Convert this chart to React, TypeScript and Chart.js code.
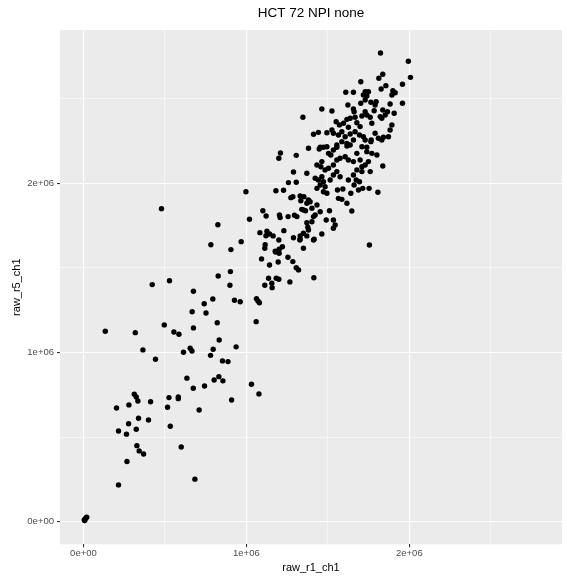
import React, { useEffect, useRef } from 'react';
import { Chart, registerables } from 'chart.js';

Chart.register(...registerables);

// Values, in millions (×1e6)
const rawR1Ch1Millions = [
  0.005, 0.010, 0.015, 0.020, 0.008,
  0.134, 0.318, 0.365, 0.442, 0.422, 0.528, 0.496, 0.555, 0.586, 0.675,
  0.667, 0.675, 0.741, 0.752, 0.794, 0.821, 0.833, 0.796, 0.780, 0.655,
  0.666, 0.614, 0.827, 0.902, 0.899, 0.927, 0.962, 0.937, 0.853, 0.887,
  0.635, 0.674, 0.743, 0.802, 0.831, 0.856, 0.909, 1.031, 1.077, 1.060,
  1.062, 1.071, 1.080, 0.312, 0.324, 0.334, 0.203, 0.279, 0.412, 0.525,
  0.582, 0.582, 0.516, 0.710, 0.338, 0.399, 0.277, 0.324, 0.215, 0.264,
  0.533, 0.328, 0.342, 0.369, 0.600, 0.267, 0.215, 0.684, 1.093, 1.142,
  1.179, 1.201, 1.195, 1.255, 1.285, 1.306, 1.320, 1.136, 1.113, 1.156,
  1.158, 1.183, 1.199, 1.267, 0.479, 0.782, 0.905, 0.968, 1.115, 1.113,
  1.177, 1.201, 1.221, 1.199, 1.350, 1.414, 1.328, 1.412, 1.209,
  1.199, 1.306, 1.381, 1.289, 1.371, 1.258, 1.306, 0.997, 1.181,
  1.228, 1.273, 1.285, 1.330, 1.334, 1.353, 1.371, 1.381, 1.101, 1.121,
  1.019, 1.203, 1.207, 1.256, 1.295, 1.310, 1.340, 1.363, 0.825, 1.083,
  1.126, 1.142, 1.164, 1.120, 1.230, 1.289, 1.330, 1.330, 1.371, 1.377,
  1.381, 1.371, 1.447, 1.473, 1.504, 1.518, 1.534, 1.555, 1.586, 1.617,
  1.637, 1.657, 1.678, 1.709, 1.739, 1.764, 1.770, 1.801, 1.831, 1.729,
  1.433, 1.463, 1.457, 1.483, 1.504, 1.534, 1.555, 1.575, 1.606, 1.626,
  1.657, 1.698, 1.729, 1.749, 1.760, 1.709, 1.678, 1.837, 1.422, 1.442,
  1.463, 1.473, 1.453, 1.483, 1.433, 1.473, 1.494, 1.514, 1.534, 1.555,
  1.575, 1.559, 1.592, 1.626, 1.657, 1.674, 1.694, 1.709, 1.641, 1.661,
  1.688, 1.714, 1.753, 1.807, 1.565, 1.586, 1.617, 1.647, 1.510, 1.534,
  1.545, 1.534, 1.490, 1.453, 1.422, 1.433, 1.402, 1.391, 1.350, 1.412,
  1.402, 1.350, 1.463, 1.416, 1.755, 1.823, 1.994, 2.007, 1.958, 1.837,
  1.813, 1.856, 1.702, 1.610, 1.657, 1.729, 1.749, 1.718, 1.739, 1.827,
  1.899, 1.913, 1.893, 1.729, 1.702, 1.764, 1.796, 1.790, 1.882, 1.958,
  1.623, 1.463, 1.525, 1.347, 1.657, 1.661, 1.729, 1.739, 1.784, 1.837,
  1.866, 1.907, 1.821, 1.852, 1.551, 1.571, 1.596, 1.617, 1.637, 1.667,
  1.709, 1.626, 1.678, 1.698, 1.760, 1.770, 1.831, 1.893, 1.412, 1.442,
  1.494, 1.525, 1.534, 1.565, 1.586, 1.606, 1.637, 1.667, 1.694, 1.718,
  1.766, 1.790, 1.810, 1.841, 1.872, 1.882, 1.453, 1.494, 1.555, 1.617, 1.739,
];

const rawR5Ch1Millions = [
  0.010, 0.015, 0.022, 0.026, 0.006,
  1.125, 1.117, 1.015, 0.960, 1.401, 1.424, 1.163, 1.121, 1.108, 1.362,
  1.241, 1.145, 1.288, 1.233, 1.316, 1.176, 1.074, 1.019, 0.983, 1.025,
  1.009, 1.001, 1.452, 1.478, 1.397, 1.309, 1.300, 1.033, 0.950, 0.946,
  0.848, 0.788, 0.802, 0.837, 0.857, 0.832, 0.719, 0.812, 0.755, 1.182,
  1.318, 1.304, 1.294, 0.753, 0.737, 0.713, 0.672, 0.690, 0.709, 0.733,
  0.737, 0.727, 0.676, 0.660, 0.611, 0.601, 0.579, 0.546, 0.536, 0.517,
  0.564, 0.449, 0.418, 0.400, 0.441, 0.355, 0.217, 0.251, 1.553, 1.517,
  1.594, 1.586, 1.535, 1.563, 1.537, 1.501, 1.488, 1.439, 1.397, 1.409,
  1.383, 1.439, 1.433, 1.417, 1.850, 1.637, 1.608, 1.655, 1.637, 1.616,
  1.598, 1.610, 1.625, 1.665, 1.616, 1.442, 1.665, 1.665, 2.179,
  2.148, 2.165, 2.207, 2.067, 2.059, 2.004, 2.006, 1.950, 1.956,
  1.959, 1.915, 1.921, 1.925, 1.897, 1.921, 1.882, 1.901, 1.838, 1.807,
  1.787, 1.813, 1.797, 1.803, 1.811, 1.803, 1.846, 1.838, 1.755, 1.708,
  1.716, 1.700, 1.689, 1.690, 1.720, 1.678, 1.689, 1.669, 1.767, 1.740,
  1.724, 1.689, 2.203, 2.213, 2.177, 2.167, 2.197, 2.226, 2.246, 2.236,
  2.226, 2.256, 2.177, 2.216, 2.187, 2.246, 2.177, 2.167, 2.256, 2.256,
  2.108, 2.128, 2.098, 2.079, 2.089, 2.108, 2.138, 2.148, 2.157, 2.138,
  2.128, 2.138, 2.108, 2.128, 2.069, 2.098, 2.079, 2.102, 2.030, 2.019,
  2.039, 2.009, 1.990, 1.980, 1.970, 1.950, 1.941, 2.019, 2.049, 2.069,
  2.039, 1.960, 1.966, 2.019, 2.049, 2.019, 2.009, 2.069, 1.941, 1.990,
  1.960, 1.970, 1.970, 1.947, 1.911, 1.905, 1.882, 1.836, 1.838, 1.783,
  1.754, 1.734, 1.783, 1.832, 1.813, 1.872, 1.852, 1.891, 1.842, 1.803,
  1.773, 1.705, 1.700, 1.669, 1.635, 2.770, 2.721, 2.626, 2.585, 2.644,
  2.621, 2.577, 2.600, 2.538, 2.538, 2.541, 2.541, 2.522, 2.516, 2.557,
  2.547, 2.535, 2.522, 2.492, 2.473, 2.479, 2.482, 2.463, 2.469, 2.473,
  2.463, 2.439, 2.427, 2.390, 2.439, 2.423, 2.423, 2.404, 2.429, 2.433,
  2.423, 2.414, 2.394, 2.404, 2.364, 2.345, 2.355, 2.378, 2.384, 2.390,
  2.398, 2.331, 2.358, 2.335, 2.390, 2.355, 2.384, 2.345, 2.290, 2.301,
  2.299, 2.315, 2.296, 2.285, 2.305, 2.275, 2.291, 2.305, 2.285, 2.275,
  2.256, 2.296, 2.266, 2.272, 2.275, 2.315, 2.213, 2.216, 2.213, 2.220, 2.213,
];

const MILLION = 1e6;
const majorTickValues = [0, 1e6, 2e6];
const majorTickLabels = ['0e+00', '1e+06', '2e+06'];
const gridValues = [0, 0.5e6, 1e6, 1.5e6, 2e6, 2.5e6];

const chartTitle = 'HCT 72 NPI none';
const xTitle = 'raw_r1_ch1';
const yTitle = 'raw_r5_ch1';

const FONT = "'Liberation Sans', Arial, Helvetica, sans-serif";

const isMajor = (v: number) => majorTickValues.some((m) => Math.abs(m - v) < 1);
const labelFor = (v: number) => {
  const i = majorTickValues.findIndex((m) => Math.abs(m - v) < 1);
  return i >= 0 ? majorTickLabels[i] : '';
};

const axisCommon = (titleText: string, titlePadding: any) => ({
  type: 'linear' as const,
  afterBuildTicks: (scale: any) => {
    scale.ticks = gridValues.map((v) => ({ value: v }));
  },
  ticks: {
    autoSkip: false,
    maxRotation: 0,
    color: '#4D4D4D',
    font: { family: FONT, size: 9.5 },
    callback: (value: any) => labelFor(Number(value)),
  },
  grid: {
    color: '#FFFFFF',
    lineWidth: (ctx: any) => (ctx.tick && isMajor(ctx.tick.value) ? 1.1 : 0.55),
    tickColor: (ctx: any) => (ctx.tick && isMajor(ctx.tick.value) ? '#333333' : 'rgba(0,0,0,0)'),
    tickWidth: (ctx: any) => (ctx.tick && isMajor(ctx.tick.value) ? 1.1 : 0),
    tickLength: 3,
    drawTicks: true,
  },
  border: { display: false },
  title: {
    display: true,
    text: titleText,
    color: '#000000',
    font: { family: FONT, size: 11 },
    padding: titlePadding,
  },
});

const panelPlugin = {
  id: 'panelBg',
  beforeDraw(chart: any) {
    const { ctx, chartArea } = chart;
    ctx.save();
    ctx.fillStyle = '#EBEBEB';
    ctx.fillRect(chartArea.left, chartArea.top, chartArea.right - chartArea.left, chartArea.bottom - chartArea.top);
    ctx.restore();
  },
  afterDraw(chart: any) {
    const { ctx, chartArea } = chart;
    ctx.save();
    ctx.fillStyle = '#000000';
    ctx.font = `13.5px ${FONT}`;
    ctx.textAlign = 'center';
    ctx.textBaseline = 'middle';
    ctx.fillText(chartTitle, (chartArea.left + chartArea.right) / 2, 13.5);
    ctx.restore();
  },
};

export default function App() {
  const canvasRef = useRef<HTMLCanvasElement | null>(null);

  useEffect(() => {
    if (!canvasRef.current) return;
    const points = rawR1Ch1Millions.map((x, i) => ({ x: x * MILLION, y: rawR5Ch1Millions[i] * MILLION }));
    const xAxis: any = axisCommon(xTitle, { top: 0, bottom: 3.5 });
    xAxis.min = -0.144e6;
    xAxis.max = 2.937e6;
    xAxis.ticks.padding = 0;
    xAxis.afterFit = (scale: any) => {
      scale.height = 33.7;
    };
    const yAxis: any = axisCommon(yTitle, { top: 10.8, bottom: 0 });
    yAxis.min = -0.134e6;
    yAxis.max = 2.906e6;
    yAxis.ticks.padding = 3;
    yAxis.afterFit = (scale: any) => {
      scale.width = 60;
    };

    const chart = new Chart(canvasRef.current, {
      type: 'scatter',
      data: {
        datasets: [
          {
            data: points,
            backgroundColor: '#000000',
            borderWidth: 0,
            pointRadius: 2.7,
            pointHoverRadius: 2.7,
          },
        ],
      },
      options: {
        animation: false,
        responsive: false,
        devicePixelRatio: 1,
        layout: { padding: { top: 30, right: 5, bottom: 0, left: 0 } },
        plugins: {
          legend: { display: false },
          tooltip: { enabled: false },
          title: { display: false },
        },
        scales: { x: xAxis, y: yAxis },
      },
      plugins: [panelPlugin],
    });
    return () => chart.destroy();
  }, []);

  return (
    <div style={{ position: 'absolute', left: 0, top: 0, width: 567, height: 578, background: '#FFFFFF' }}>
      <canvas ref={canvasRef} width={567} height={578} style={{ display: 'block' }} />
    </div>
  );
}
